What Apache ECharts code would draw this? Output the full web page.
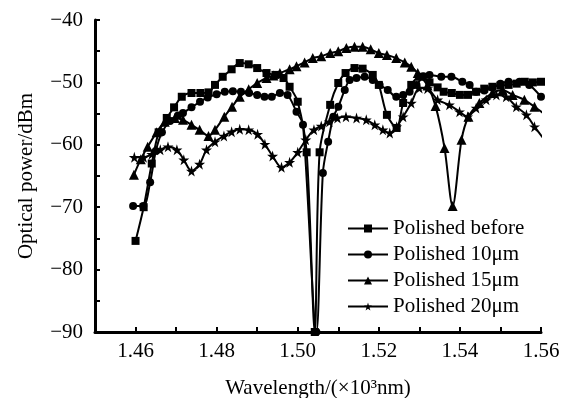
<!DOCTYPE html>
<html>
<head>
<meta charset="utf-8">
<script src="https://cdn.jsdelivr.net/npm/echarts@6/dist/echarts.min.js"></script>
<style>html,body{margin:0;padding:0;background:#fff}#c{width:563px;height:398px}</style>
</head>
<body>
<div id="c"></div>
<script>
var seriesNames = ['Polished before', 'Polished 10\u03bcm', 'Polished 15\u03bcm', 'Polished 20\u03bcm'];
var xTickLabels = ['1.46', '1.48', '1.50', '1.52', '1.54', '1.56'];
var yTickLabels = ['\u221240', '\u221250', '\u221260', '\u221270', '\u221280', '\u221290'];

var xBefore = [1.460,1.462,1.464,1.4657,1.4677,1.4695,1.4714,1.4738,1.476,1.478,1.4796,1.4815,1.4837,1.4857,1.4879,1.490,1.4923,1.4945,1.4965,1.498,1.500,1.5022,1.5042,1.5054,1.508,1.510,1.5118,1.514,1.516,1.5185,1.520,1.522,1.5244,1.526,1.528,1.530,1.5325,1.5345,1.536,1.538,1.540,1.542,1.544,1.546,1.548,1.550,1.552,1.554,1.556,1.558,1.560];
var yBefore = [-75.4,-70.0,-63.0,-58.0,-55.7,-54.0,-52.3,-51.7,-51.7,-51.6,-50.4,-49.1,-47.9,-46.9,-47.1,-47.7,-48.5,-48.8,-49.3,-50.7,-53.1,-61.2,-90,-61.2,-53.6,-50.1,-48.5,-47.7,-47.8,-48.8,-50.4,-55.2,-57.3,-53.3,-50.4,-49.1,-50.0,-50.8,-51.5,-51.7,-52.0,-52.0,-51.5,-51.0,-50.7,-50.5,-50.4,-50.2,-49.9,-50.0,-49.9];

var x10 = [1.4594,1.4619,1.4636,1.465,1.4665,1.4685,1.4705,1.4717,1.4738,1.4759,1.4778,1.480,1.482,1.484,1.486,1.488,1.490,1.4918,1.4936,1.4956,1.4975,1.4997,1.5013,1.5046,1.5062,1.5075,1.5088,1.510,1.5116,1.5128,1.5145,1.5165,1.5185,1.5202,1.5222,1.5243,1.526,1.5276,1.5293,1.531,1.5325,1.5354,1.5379,1.5406,1.5424,1.544,1.546,1.548,1.550,1.552,1.5547,1.5571,1.560];
var y10 = [-69.8,-69.8,-66.0,-61.0,-58.0,-56.2,-55.3,-54.9,-54.0,-53.1,-52.4,-51.9,-51.5,-51.4,-51.5,-51.7,-52.0,-52.3,-52.3,-51.7,-52.0,-54.7,-56.8,-90,-64.5,-59.5,-55.5,-53.9,-51.2,-49.6,-49.3,-49.1,-49.6,-50.4,-51.2,-52.3,-52.0,-51.5,-50.4,-49.0,-48.8,-49.1,-49.1,-49.9,-50.4,-51.5,-51.3,-50.8,-50.2,-49.9,-49.9,-50.4,-52.3];

var x15 = [1.4596,1.4613,1.463,1.4652,1.4672,1.4697,1.4717,1.4738,1.4758,1.478,1.4796,1.4819,1.4838,1.4857,1.4879,1.490,1.4923,1.494,1.4956,1.498,1.4997,1.5017,1.5037,1.5058,1.508,1.510,1.512,1.514,1.516,1.518,1.520,1.522,1.5243,1.5264,1.528,1.5296,1.532,1.534,1.5362,1.5382,1.5404,1.5421,1.5448,1.548,1.5505,1.553,1.5559,1.5584,1.5605];
var y15 = [-64.8,-62.3,-60.3,-58.0,-56.3,-55.7,-56.0,-56.8,-57.6,-58.6,-57.6,-55.5,-53.9,-52.3,-51.1,-50.1,-49.3,-48.9,-48.5,-47.9,-47.4,-46.8,-46.1,-45.8,-45.3,-45.0,-44.5,-44.3,-44.3,-44.7,-45.3,-45.6,-46.1,-46.8,-47.5,-48.5,-50.5,-53.8,-60.5,-69.8,-59.2,-55.5,-53.3,-51.7,-51.2,-52.0,-52.8,-53.9,-54.9];

var x20 = [1.4597,1.462,1.464,1.4661,1.468,1.4702,1.4719,1.4738,1.4758,1.4775,1.4796,1.4818,1.4837,1.4857,1.4879,1.4901,1.4919,1.4938,1.496,1.498,1.500,1.502,1.504,1.5058,1.5078,1.5098,1.5119,1.5145,1.5169,1.519,1.521,1.5227,1.5244,1.526,1.528,1.530,1.532,1.5345,1.5374,1.5399,1.5419,1.544,1.5465,1.549,1.5514,1.5539,1.5564,1.5584,1.5604];
var y20 = [-62.0,-62.0,-61.5,-60.8,-60.3,-60.8,-62.4,-64.2,-63.1,-60.8,-59.5,-58.6,-57.9,-57.5,-57.6,-58.3,-59.9,-61.8,-63.6,-62.8,-61.2,-59.2,-57.6,-57.0,-56.3,-55.7,-55.5,-55.7,-56.0,-56.8,-57.6,-58.1,-57.1,-55.5,-53.3,-50.9,-51.0,-52.8,-53.6,-54.7,-55.5,-54.1,-52.8,-52.0,-52.3,-53.9,-55.2,-57.1,-58.8];

function pairs(xs, ys) { return xs.map(function (x, i) { return [x, ys[i]]; }); }

var STAR = 'path://M50,0 L61,35 L98,35 L68,57 L79,91 L50,70 L21,91 L32,57 L2,35 L39,35 Z';
var FONT = 'Liberation Serif';

function mk(name, data, symbol, size) {
  return {
    name: name, type: 'line', data: data, smooth: 0.3,
    symbol: symbol, symbolSize: size, showSymbol: true,
    lineStyle: { color: '#000', width: 2 },
    itemStyle: { color: '#000', borderWidth: 0 },
    emphasis: { disabled: true },
    animation: false
  };
}

var chart = echarts.init(document.getElementById('c'), null, { renderer: 'canvas' });
chart.setOption({
  backgroundColor: '#fff',
  animation: false,
  grid: { left: 95, right: 22, top: 20, bottom: 66, containLabel: false, outerBoundsMode: 'none' },
  legend: {
    orient: 'vertical', left: 342, top: 213, itemWidth: 40, itemHeight: 10, itemGap: 5,
    textStyle: { fontFamily: FONT, fontSize: 21, color: '#000' },
    data: seriesNames
  },
  xAxis: {
    type: 'value', min: 1.45, max: 1.56, interval: 0.01,
    name: 'Wavelength/(\u00d710\u00b3nm)', nameLocation: 'middle', nameGap: 46,
    nameTextStyle: { fontFamily: FONT, fontSize: 21, color: '#000' },
    axisLine: { show: true, onZero: false, lineStyle: { color: '#000', width: 3 } },
    axisTick: { show: true, inside: true, length: 5, lineStyle: { color: '#000', width: 2 } },
    axisLabel: {
      fontFamily: FONT, fontSize: 21, color: '#000', margin: 9,
      formatter: function (v) {
        var s = v.toFixed(2);
        return xTickLabels.indexOf(s) >= 0 ? s : '';
      }
    },
    splitLine: { show: false }
  },
  yAxis: {
    type: 'value', min: -90, max: -40, interval: 5,
    name: 'Optical power/dBm', nameLocation: 'middle', nameGap: 58, nameRotate: 90,
    nameTextStyle: { fontFamily: FONT, fontSize: 21, color: '#000' },
    axisLine: { show: true, onZero: false, lineStyle: { color: '#000', width: 3 } },
    axisTick: { show: true, inside: true, length: 5, lineStyle: { color: '#000', width: 2 } },
    axisLabel: {
      fontFamily: FONT, fontSize: 21, color: '#000', margin: 12,
      formatter: function (v) {
        var s = '\u2212' + Math.abs(Math.round(v));
        return yTickLabels.indexOf(s) >= 0 ? s : '';
      }
    },
    splitLine: { show: false }
  },
  series: [
    mk(seriesNames[0], pairs(xBefore, yBefore), 'rect', 8),
    mk(seriesNames[1], pairs(x10, y10), 'circle', 8),
    mk(seriesNames[2], pairs(x15, y15), 'triangle', 10),
    mk(seriesNames[3], pairs(x20, y20), STAR, 11)
  ]
});
</script>
</body>
</html>
